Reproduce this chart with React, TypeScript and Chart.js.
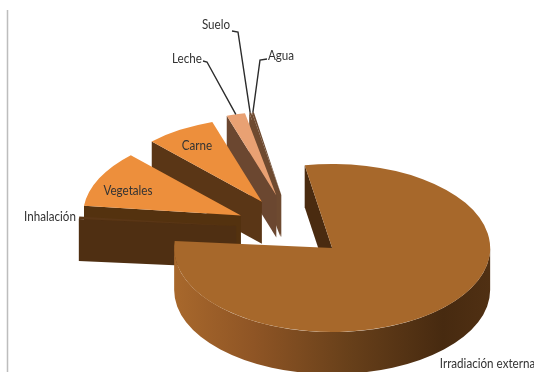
import React, { useEffect, useRef } from "react";
import { Chart, registerables } from "chart.js";

Chart.register(...registerables);

// Dose contribution per exposure pathway (percent of the total).
const pathways = ["Irradiación externa", "Inhalación", "Vegetales", "Carne", "Leche", "Suelo", "Agua"];
const shares = [79.1, 0.5, 10.9, 7.2, 1.9, 0.2, 0.2];

// Slice styling, one entry per pathway.
const topColors = ["#a7682b", "#5a3616", "#ed8f3c", "#ed8f3c", "#e9a173", "#6e4a30", "#6e4a30"];
const faceColors = ["#4a2b10", "#4f2f12", "#54320f", "#5a3616", "#6b4730", "#6e4a30", "#6e4a30"];
const explode = [53, 57, 58, 60, 65, 65, 65];

// Back-to-front order so nearer slices overlap the farther ones.
const paintOrder = [6, 5, 4, 3, 2, 1, 0];

const TILT = 0.532;
const DEPTH = 42;
const TEXT_SQUEEZE = 0.93;

type Caption = { index: number; x: number; y: number; leader?: number[][] };

const captions: Caption[] = [
  { index: 0, x: 487.5, y: 364 },
  { index: 1, x: 50, y: 217 },
  { index: 2, x: 128, y: 191 },
  { index: 3, x: 197, y: 146 },
  { index: 4, x: 187, y: 59, leader: [[203, 61], [207, 62]] },
  { index: 5, x: 216, y: 25, leader: [[232, 31], [238, 32]] },
  { index: 6, x: 281, y: 56, leader: [[267, 59], [260, 60]] },
];

const tiltedPie = {
  id: "tiltedPie",
  beforeDatasetDraw(chart: any, args: any) {
    const { ctx } = chart;
    const arcs = args.meta.data;
    for (const i of paintOrder) {
      const arc = arcs[i];
      const { x, y, outerRadius: r, startAngle: a, endAngle: b } = arc;
      const mid = (a + b) / 2;
      const depth = DEPTH / TILT;
      ctx.save();
      ctx.translate(0, y);
      ctx.scale(1, TILT);
      ctx.translate(0, -y);
      ctx.translate(Math.cos(mid) * explode[i], Math.sin(mid) * explode[i]);

      // Straight cut faces that turn towards the viewer.
      const drawFace = (angle: number) => {
        ctx.beginPath();
        ctx.moveTo(x, y);
        ctx.lineTo(x + Math.cos(angle) * r, y + Math.sin(angle) * r);
        ctx.lineTo(x + Math.cos(angle) * r, y + Math.sin(angle) * r + depth);
        ctx.lineTo(x, y + depth);
        ctx.closePath();
        ctx.fillStyle = faceColors[i];
        ctx.fill();
      };
      if (Math.cos(a) < 0) drawFace(a);
      if (Math.cos(b) > 0) drawFace(b);

      // Curved wall along the front half of the rim.
      const twoPi = Math.PI * 2;
      const from = Math.max(a, twoPi);
      const to = Math.min(b, twoPi + Math.PI);
      if (to > from) {
        const wall = ctx.createLinearGradient(x - r, 0, x + r, 0);
        wall.addColorStop(0, "#a8682c");
        wall.addColorStop(0.25, "#8f5525");
        wall.addColorStop(0.55, "#68401a");
        wall.addColorStop(0.85, "#472a10");
        wall.addColorStop(1, "#503013");
        ctx.beginPath();
        ctx.arc(x, y, r, from, to);
        ctx.arc(x, y + depth, r, to, from, true);
        ctx.closePath();
        ctx.fillStyle = wall;
        ctx.fill();
      }

      arc.draw(ctx);
      ctx.restore();
    }
    return false;
  },
  afterDatasetsDraw(chart: any) {
    const { ctx } = chart;
    const arcs = chart.getDatasetMeta(0).data;

    // Thin rule along the left edge of the plot.
    ctx.save();
    ctx.strokeStyle = "#bdbdbd";
    ctx.lineWidth = 1.5;
    ctx.beginPath();
    ctx.moveTo(7.5, 10);
    ctx.lineTo(7.5, 372);
    ctx.stroke();

    ctx.font = "12.5px Lato, sans-serif";
    ctx.textBaseline = "middle";
    ctx.textAlign = "center";
    for (const c of captions) {
      if (c.leader) {
        const arc = arcs[c.index];
        const mid = (arc.startAngle + arc.endAngle) / 2;
        const reach = arc.outerRadius + explode[c.index];
        ctx.strokeStyle = "#2b2b2b";
        ctx.lineWidth = 1.4;
        ctx.beginPath();
        ctx.moveTo(c.leader[0][0], c.leader[0][1]);
        ctx.lineTo(c.leader[1][0], c.leader[1][1]);
        ctx.lineTo(arc.x + Math.cos(mid) * reach, arc.y + Math.sin(mid) * reach * TILT);
        ctx.stroke();
      }
      ctx.save();
      ctx.translate(c.x, c.y);
      ctx.scale(TEXT_SQUEEZE, 1);
      ctx.fillStyle = "#333333";
      ctx.fillText(pathways[c.index], 0, 0);
      ctx.restore();
    }
    ctx.restore();
  },
};

export default function App() {
  const ref = useRef<HTMLCanvasElement>(null);
  useEffect(() => {
    document.body.style.margin = "0";
    const chart = new Chart(ref.current!, {
      type: "pie",
      data: {
        labels: pathways,
        datasets: [
          {
            data: shares,
            backgroundColor: topColors,
            borderWidth: 0,
            radius: 158,
          } as any,
        ],
      },
      options: {
        responsive: false,
        animation: false,
        rotation: 350,
        layout: { padding: { left: 52, right: 0, top: 86, bottom: 0 } },
        plugins: { legend: { display: false }, tooltip: { enabled: false } },
      },
      plugins: [tiltedPie],
    } as any);
    return () => chart.destroy();
  }, []);
  return <canvas ref={ref} width={534} height={372} style={{ display: "block" }} />;
}
